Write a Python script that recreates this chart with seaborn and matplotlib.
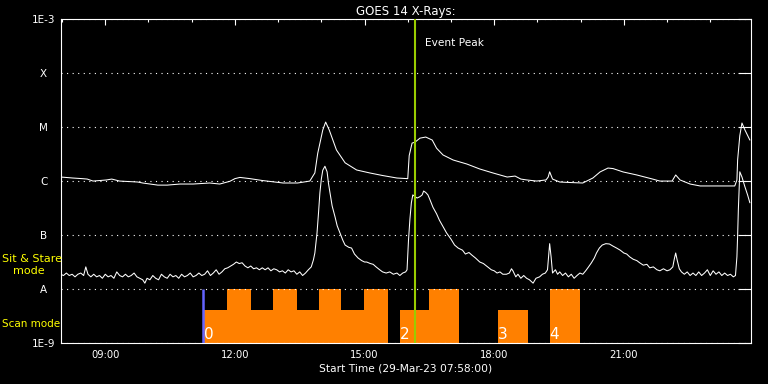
import matplotlib
matplotlib.use("Agg")
import matplotlib.pyplot as plt
import matplotlib.ticker as mticker
import pandas as pd
import seaborn as sns

# ── GOES 14 long channel (1-8 A), W/m^2 ───────────────────────────────────────
long_times = [
    "07:58", "08:05", "08:15", "08:28", "08:35", "08:43", "08:55",
    "09:02", "09:09", "09:20", "09:45", "09:52",
    "10:13", "10:26", "10:44",
    "11:02", "11:25", "11:39", "11:53",
    "12:00", "12:07", "12:21", "12:39",
    "13:07", "13:27", "13:44", "13:51", "13:55",
    "14:02", "14:06", "14:11", "14:21", "14:33", "14:49",
    "15:07", "15:25", "15:45",
    "16:00", "16:02", "16:06", "16:10", "16:17", "16:25", "16:34", "16:40", "16:49",
    "17:03", "17:22", "17:40", "17:58",
    "18:18", "18:29", "18:37", "18:45", "18:59",
    "19:12", "19:15", "19:17", "19:21", "19:31", "19:45",
    "20:03", "20:17", "20:27", "20:38", "20:45", "20:59",
    "21:18", "21:40", "21:50",
    "22:07", "22:12", "22:18", "22:32", "22:46",
    "23:34", "23:37", "23:38", "23:41", "23:44", "23:48", "23:55",
]
long_flux = [
    1.2e-6, 1.18e-6, 1.15e-6, 1.12e-6, 1.1e-6, 1.01e-6, 1.04e-6,
    1.06e-6, 1.1e-6, 1.01e-6, 9.7e-7, 9.3e-7,
    8.5e-7, 8.5e-7, 8.9e-7,
    8.9e-7, 9.3e-7, 8.9e-7, 1.0e-6,
    1.12e-6, 1.18e-6, 1.12e-6, 1.03e-6,
    9.3e-7, 9.3e-7, 1.01e-6, 1.43e-6, 3.3e-6,
    8.9e-6, 1.25e-5, 8.9e-6, 3.8e-6, 2.2e-6, 1.62e-6,
    1.43e-6, 1.28e-6, 1.15e-6,
    1.12e-6, 3.0e-6, 5.1e-6, 5.3e-6, 6.3e-6, 6.6e-6, 5.8e-6, 4.1e-6, 3.07e-6,
    2.48e-6, 2.09e-6, 1.69e-6, 1.43e-6,
    1.2e-6, 1.25e-6, 1.1e-6, 1.06e-6, 1.01e-6,
    1.06e-6, 1.2e-6, 1.5e-6, 1.1e-6, 9.7e-7, 9.5e-7,
    9.3e-7, 1.15e-6, 1.49e-6, 1.76e-6, 1.72e-6, 1.49e-6,
    1.31e-6, 1.1e-6, 1.01e-6,
    1.01e-6, 1.31e-6, 1.06e-6, 8.9e-7, 8.2e-7,
    8.2e-7, 1.06e-6, 2.5e-6, 7.0e-6, 1.2e-5, 9.0e-6, 5.8e-6,
]

# ── GOES 14 short channel (0.5-4 A), W/m^2 ────────────────────────────────────
short_times = [
    "07:58", "08:02", "08:06", "08:10", "08:14", "08:18", "08:22", "08:26",
    "08:30", "08:33", "08:36", "08:40", "08:44", "08:48", "08:52", "08:56",
    "09:00", "09:04", "09:08", "09:12", "09:16", "09:20", "09:24", "09:28",
    "09:32", "09:36", "09:40", "09:44", "09:48", "09:52", "09:55", "09:58",
    "10:02", "10:06", "10:10", "10:14", "10:18", "10:22", "10:26", "10:30",
    "10:34", "10:38", "10:42", "10:46", "10:50", "10:54", "10:58",
    "11:02", "11:06", "11:10", "11:14", "11:18", "11:22", "11:26", "11:30",
    "11:34", "11:38", "11:42", "11:46", "11:50", "11:54", "11:58",
    "12:02", "12:06", "12:10", "12:14", "12:18", "12:22", "12:26", "12:30",
    "12:34", "12:38", "12:42", "12:46", "12:50", "12:54", "12:58",
    "13:02", "13:06", "13:10", "13:14", "13:18", "13:22", "13:26", "13:30",
    "13:34", "13:38", "13:42", "13:46", "13:49", "13:51", "13:54", "13:56", "13:58",
    "14:00", "14:02", "14:05", "14:08", "14:10", "14:12", "14:15", "14:19",
    "14:22", "14:26", "14:30", "14:33", "14:38", "14:42", "14:46", "14:51", "14:56",
    "15:00", "15:03", "15:08", "15:12", "15:16", "15:21", "15:25", "15:30",
    "15:35", "15:40", "15:45", "15:49", "15:53", "15:57", "15:59",
    "16:01", "16:03", "16:05", "16:07", "16:10", "16:13", "16:17", "16:20",
    "16:22", "16:25", "16:28", "16:31", "16:35", "16:40", "16:44", "16:49", "16:54",
    "17:00", "17:05", "17:10", "17:16", "17:20", "17:25", "17:29", "17:34",
    "17:40", "17:45", "17:51", "17:56",
    "18:00", "18:04", "18:08", "18:12", "18:17", "18:21", "18:24", "18:26",
    "18:30", "18:33", "18:37", "18:41", "18:45", "18:49", "18:54", "18:58",
    "19:03", "19:07", "19:11", "19:14", "19:16", "19:17", "19:19", "19:21",
    "19:25", "19:28", "19:31", "19:35", "19:39", "19:43", "19:47", "19:51", "19:55", "19:59",
    "20:03", "20:07", "20:11", "20:15", "20:19", "20:22", "20:26", "20:30",
    "20:35", "20:40", "20:45", "20:50", "20:55",
    "21:00", "21:04", "21:08", "21:13", "21:18", "21:22", "21:27", "21:32",
    "21:36", "21:41", "21:46", "21:50", "21:55",
    "22:00", "22:04", "22:08", "22:10", "22:12", "22:14", "22:17", "22:20",
    "22:24", "22:28", "22:32", "22:36", "22:40", "22:44", "22:48", "22:52", "22:56",
    "23:00", "23:04", "23:08", "23:12", "23:16", "23:20", "23:24", "23:28",
    "23:32", "23:35", "23:37", "23:38", "23:39", "23:41", "23:44", "23:48", "23:52", "23:55",
]
short_flux = [
    1.9e-8, 1.8e-8, 2.0e-8, 1.8e-8, 1.9e-8, 1.7e-8, 1.9e-8, 2.0e-8,
    1.8e-8, 2.6e-8, 1.9e-8, 1.7e-8, 1.9e-8, 1.7e-8, 1.8e-8, 1.6e-8,
    1.9e-8, 1.7e-8, 1.8e-8, 1.6e-8, 2.1e-8, 1.8e-8, 1.7e-8, 1.9e-8,
    1.7e-8, 1.8e-8, 2.0e-8, 1.7e-8, 1.6e-8, 1.5e-8, 1.3e-8, 1.6e-8,
    1.5e-8, 1.8e-8, 1.6e-8, 1.5e-8, 1.9e-8, 1.7e-8, 1.6e-8, 1.9e-8,
    1.7e-8, 1.8e-8, 1.6e-8, 1.9e-8, 1.7e-8, 1.8e-8, 2.0e-8,
    1.7e-8, 1.8e-8, 2.0e-8, 1.8e-8, 1.9e-8, 2.2e-8, 1.8e-8, 2.0e-8,
    2.3e-8, 1.9e-8, 2.1e-8, 2.4e-8, 2.5e-8, 2.7e-8, 2.9e-8,
    3.2e-8, 3.0e-8, 3.1e-8, 2.7e-8, 2.5e-8, 2.7e-8, 2.4e-8, 2.5e-8,
    2.3e-8, 2.5e-8, 2.3e-8, 2.5e-8, 2.2e-8, 2.4e-8, 2.3e-8,
    2.1e-8, 2.2e-8, 2.0e-8, 2.3e-8, 2.1e-8, 2.2e-8, 1.9e-8, 2.1e-8,
    1.8e-8, 2.0e-8, 2.3e-8, 2.6e-8, 3.5e-8, 4.7e-8, 1.1e-7, 2.5e-7, 6.1e-7,
    1.1e-6, 1.6e-6, 1.9e-6, 1.5e-6, 9.0e-7, 6.1e-7, 3.5e-7, 2.2e-7,
    1.5e-7, 1.1e-7, 8.0e-8, 6.6e-8, 6.0e-8, 5.8e-8, 4.5e-8, 3.8e-8, 3.4e-8,
    3.2e-8, 3.2e-8, 3.0e-8, 2.9e-8, 2.6e-8, 2.3e-8, 2.1e-8, 2.0e-8,
    2.1e-8, 1.9e-8, 2.0e-8, 1.8e-8, 2.0e-8, 2.1e-8, 2.3e-8,
    8.0e-8, 2.0e-7, 4.0e-7, 5.6e-7, 5.2e-7, 4.9e-7, 5.2e-7, 5.6e-7,
    6.6e-7, 6.2e-7, 5.6e-7, 4.5e-7, 3.3e-7, 2.5e-7, 1.9e-7, 1.45e-7, 1.1e-7,
    8.5e-8, 6.6e-8, 5.8e-8, 5.3e-8, 4.5e-8, 4.8e-8, 4.3e-8, 3.8e-8,
    3.2e-8, 3.0e-8, 2.6e-8, 2.3e-8,
    2.2e-8, 2.0e-8, 2.1e-8, 1.9e-8, 1.9e-8, 2.0e-8, 2.4e-8, 2.2e-8,
    1.7e-8, 1.9e-8, 1.6e-8, 1.8e-8, 1.6e-8, 1.5e-8, 1.3e-8, 1.6e-8,
    1.7e-8, 1.9e-8, 2.0e-8, 2.3e-8, 5.0e-8, 7.0e-8, 4.0e-8, 2.0e-8,
    2.3e-8, 1.9e-8, 2.1e-8, 1.8e-8, 2.0e-8, 1.7e-8, 1.9e-8, 1.6e-8, 1.8e-8, 2.0e-8,
    1.9e-8, 2.2e-8, 2.6e-8, 3.1e-8, 3.8e-8, 4.7e-8, 5.8e-8, 6.6e-8,
    7.0e-8, 6.9e-8, 6.3e-8, 5.8e-8, 5.3e-8,
    4.7e-8, 4.5e-8, 4.0e-8, 3.6e-8, 3.4e-8, 3.1e-8, 2.8e-8, 2.9e-8,
    2.5e-8, 2.6e-8, 2.3e-8, 2.2e-8, 2.4e-8,
    2.2e-8, 2.3e-8, 2.6e-8, 3.6e-8, 4.7e-8, 3.5e-8, 2.4e-8, 2.1e-8,
    1.9e-8, 2.1e-8, 1.8e-8, 2.0e-8, 1.8e-8, 2.1e-8, 1.8e-8, 2.0e-8, 2.3e-8,
    1.8e-8, 2.2e-8, 1.9e-8, 2.1e-8, 1.8e-8, 2.0e-8, 1.8e-8, 1.9e-8,
    1.7e-8, 1.8e-8, 4.0e-8, 1.0e-7, 3.0e-7, 1.5e-6, 1.2e-6, 8.0e-7, 5.5e-7, 4.0e-7,
]

# ── Scan mode segments (low = 4.1e-9, high = A level) ────────────────────────
scan_start = ["11:17", "11:49", "12:22", "12:53", "13:26", "13:57", "14:28", "14:59",
              "15:49", "16:29", "18:05", "19:17"]
scan_end = ["11:49", "12:22", "12:53", "13:26", "13:57", "14:28", "14:59", "15:32",
            "16:29", "17:11", "18:47", "19:59"]
scan_top = [4.1e-9, 1e-8, 4.1e-9, 1e-8, 4.1e-9, 1e-8, 4.1e-9, 1e-8,
            4.1e-9, 1e-8, 4.1e-9, 1e-8]
scan_labels = ["0", "2", "3", "4"]
scan_label_times = ["11:17", "15:49", "18:05", "19:17"]

sit_stare_time = "11:16"
event_peak_time = "16:10"

y_levels = [1e-9, 1e-8, 1e-7, 1e-6, 1e-5, 1e-4, 1e-3]
y_names = ["1E-9", "A", "B", "C", "M", "X", "1E-3"]
x_tick_times = ["09:00", "12:00", "15:00", "18:00", "21:00"]
x_start, x_end = "07:58", "23:56"


def to_hours(t):
    h, m = t.split(":")
    return int(h) + int(m) / 60.0


assert len(long_times) == len(long_flux)
assert len(short_times) == len(short_flux)

sns.set_theme(style="dark", rc={
    "figure.facecolor": "black", "axes.facecolor": "black",
    "axes.edgecolor": "white", "text.color": "white",
    "axes.labelcolor": "white", "xtick.color": "white", "ytick.color": "white",
})
plt.rcParams["font.family"] = ["DejaVu Sans"]

fig = plt.figure(figsize=(7.68, 3.84), dpi=100)
ax = fig.add_axes([60.6 / 768, 40.7 / 384, 690.0 / 768, 324.0 / 384])

# scan mode bars
starts = [to_hours(t) for t in scan_start]
widths = [to_hours(e) - to_hours(s) for s, e in zip(scan_start, scan_end)]
ax.bar(starts, [top - 1e-9 for top in scan_top], width=widths, bottom=1e-9,
       align="edge", color="#ff8000", linewidth=0, zorder=1)

# X-ray curves
df_long = pd.DataFrame({"hour": [to_hours(t) for t in long_times], "flux": long_flux})
df_short = pd.DataFrame({"hour": [to_hours(t) for t in short_times], "flux": short_flux})
sns.lineplot(data=df_long, x="hour", y="flux", ax=ax, color="white", lw=0.75, estimator=None)
sns.lineplot(data=df_short, x="hour", y="flux", ax=ax, color="white", lw=0.75, estimator=None)

ax.set_yscale("log")
ax.set_ylim(1e-9, 1e-3)
ax.set_xlim(to_hours(x_start), to_hours(x_end))

# event markers
ax.vlines(to_hours(sit_stare_time), 1e-9, 1e-8, color="#6464ff", lw=1.8, zorder=3)
ax.axvline(to_hours(event_peak_time), color="#99cc00", lw=1.5, zorder=3)
ax.text(to_hours(event_peak_time) + 0.24, 3.6e-4, "Event Peak", fontsize=7.6,
        ha="left", va="center", color="white")
for lab, t in zip(scan_labels, scan_label_times):
    ax.text(to_hours(t), 1.2e-9, lab, fontsize=11, ha="left", va="baseline",
            color="white", zorder=4)

# axes / ticks
ax.set_axisbelow(False)
ax.set_yticks(y_levels, labels=y_names)
ax.yaxis.set_minor_locator(mticker.NullLocator())
ax.set_xticks([to_hours(t) for t in x_tick_times], labels=x_tick_times)
ax.set_xticks(range(8, 24), minor=True)
ax.tick_params(which="both", direction="in", top=True, right=True, width=0.8, colors="white")
ax.tick_params(axis="x", which="major", length=4.3, pad=4.5, labelsize=7.2)
ax.tick_params(axis="x", which="minor", length=2.2)
ax.tick_params(axis="y", which="major", length=9.7, pad=12.2, labelsize=7.5)
for lbl in ax.get_yticklabels():
    lbl.set_ha("center")
ax.grid(axis="y", which="major", color="white", linestyle=(0, (1, 4)), linewidth=0.8)
ax.grid(axis="x", visible=False)
for sp in ax.spines.values():
    sp.set_color("white")
    sp.set_linewidth(0.8)

ax.set_title("GOES 14 X-Rays:", fontsize=8.5, color="white", pad=3)
ax.set_xlabel("Start Time (29-Mar-23 07:58:00)", fontsize=7.7, labelpad=3)
ax.set_ylabel("")

fig.text(2 / 768, 1 - 259 / 384, "Sit & Stare", color="yellow", fontsize=8, va="center")
fig.text(13 / 768, 1 - 271 / 384, "mode", color="yellow", fontsize=8, va="center")
fig.text(2 / 768, 1 - 324 / 384, "Scan mode", color="yellow", fontsize=7.5, va="center")

fig.savefig("out.png", dpi=100, facecolor="black")
plt.close(fig)
